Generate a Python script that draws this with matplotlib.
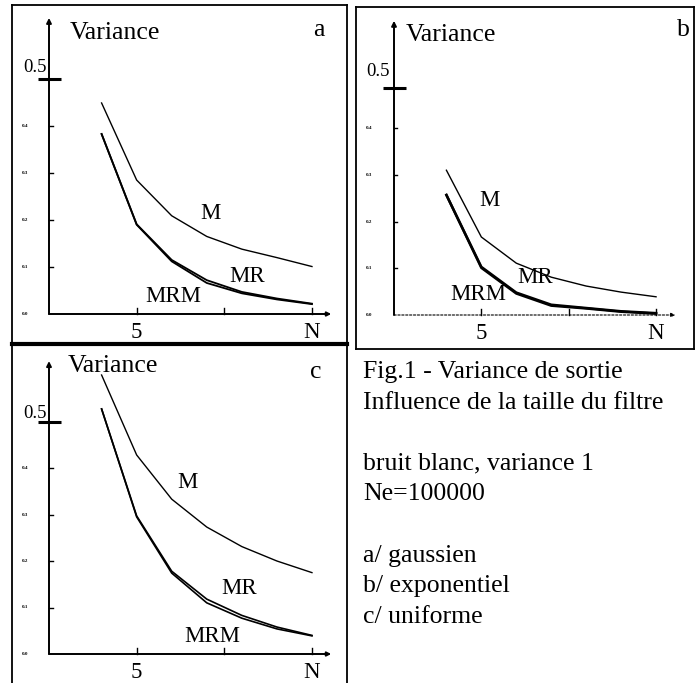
import matplotlib
matplotlib.use("Agg")
import matplotlib.pyplot as plt
from matplotlib.lines import Line2D

plt.rcParams['font.family'] = ['Liberation Serif', 'DejaVu Serif']

# ---- data -------------------------------------------------------------
N = [3, 5, 7, 9, 11, 13, 15]
y_ticks = [0.0, 0.1, 0.2, 0.3, 0.4]
y_tick_labels = ['0.0', '0.1', '0.2', '0.3', '0.4']
x_ticks = [5, 10, 15]
x_tick_labels = ['5', '', 'N']
panel_names = ['a', 'b', 'c']
series_names = ['M', 'MR', 'MRM']

# a / gaussien
M_a = [0.449, 0.285, 0.209, 0.165, 0.138, 0.120, 0.101]
MR_a = [0.383, 0.191, 0.115, 0.072, 0.047, 0.033, 0.022]
MRM_a = [0.383, 0.190, 0.112, 0.066, 0.044, 0.031, 0.021]
# b / exponentiel
M_b = [0.310, 0.167, 0.111, 0.081, 0.062, 0.049, 0.039]
MR_b = [0.257, 0.103, 0.048, 0.022, 0.015, 0.008, 0.004]
MRM_b = [0.257, 0.101, 0.046, 0.020, 0.014, 0.007, 0.003]
# c / uniforme
M_c = [0.600, 0.428, 0.333, 0.273, 0.231, 0.200, 0.175]
MR_c = [0.527, 0.297, 0.178, 0.118, 0.083, 0.058, 0.040]
MRM_c = [0.527, 0.295, 0.174, 0.110, 0.077, 0.054, 0.039]

caption = ["Fig.1 - Variance de sortie", "Influence de la taille du filtre", "",
           "bruit blanc, variance 1", "Ne=100000", "",
           "a/ gaussien", "b/ exponentiel", "c/ uniforme"]

# ---- layout (pixels) ----------------------------------------------------
W, H = 700, 683
fig = plt.figure(figsize=(W / 100, H / 100), dpi=100)


def fx(px):
    return px / W


def fy(py):
    return 1 - py / H


def T(px, py, s, **kw):
    fig.text(fx(px), fy(py), s, **kw)


panels = {
    'a': dict(frame=(12, 5, 347, 344), org=(49, 314), xs=17.53, ys=470,
              mark=0.5, data=(M_a, MR_a, MRM_a), lw_r=1.3,
              var=(70, 33), let=(319, 30), half=(47, 72), tl=25,
              lab=[(210, 214), (247, 277), (173, 296)], xdash=False),
    'b': dict(frame=(356, 7, 694, 349), org=(394, 315), xs=17.47, ys=467,
              mark=0.487, data=(M_b, MR_b, MRM_b), lw_r=1.8,
              var=(406, 35), let=(683, 30), half=(390, 76), tl=369,
              lab=[(489, 200), (535, 278), (478, 295)], xdash=True),
    'c': dict(frame=(12, 344, 347, 690), org=(49, 654), xs=17.53, ys=465,
              mark=0.5, data=(M_c, MR_c, MRM_c), lw_r=1.2,
              var=(68, 366), let=(316, 372), half=(47, 418), tl=25,
              lab=[(187, 483), (239, 588), (212, 637)], xdash=False),
}

for name in panel_names:
    p = panels[name]
    l, t, r, b = p['frame']
    ox, oy = p['org']
    xs, ys = p['xs'], p['ys']
    ax = fig.add_axes([fx(l), fy(b), (r - l) / W, (b - t) / H])
    ax.set_xlim((l - ox) / xs, (r - ox) / xs)
    ax.set_ylim((oy - b) / ys, (oy - t) / ys)
    ax.set_xticks([])
    ax.set_yticks([])
    for sp in ax.spines.values():
        sp.set_linewidth(1.3)
        sp.set_color('black')

    # axes with arrows
    ax.annotate('', xy=(0, 0.63), xytext=(0, 0),
                arrowprops=dict(arrowstyle='-|>', color='black', lw=1.4,
                                mutation_scale=7, shrinkA=0, shrinkB=0))
    ax.annotate('', xy=(16.1, 0), xytext=(0, 0),
                arrowprops=dict(arrowstyle='-|>', color='black',
                                lw=0.8 if p['xdash'] else 1.4,
                                linestyle=(0, (2, 1.5)) if p['xdash'] else '-',
                                mutation_scale=6, shrinkA=0, shrinkB=0))

    # small ticks
    for yt in y_ticks[1:]:
        ax.plot([0, 0.2], [yt, yt], color='black', lw=1.0)
    for xt in x_ticks:
        ax.plot([xt, xt], [0, 6 / ys], color='black', lw=1.0)
    # 0.5 marker
    ax.plot([-0.63, 0.68], [p['mark'], p['mark']], color='black', lw=2.2,
            solid_capstyle='butt')

    # curves
    M, MR, MRM = p['data']
    ax.plot(N, M, color='black', lw=1.0)
    ax.plot(N, MR, color='black', lw=p['lw_r'])
    ax.plot(N, MRM, color='black', lw=p['lw_r'])

    # tiny y tick labels
    for yt, lab in zip(y_ticks, y_tick_labels):
        T(p['tl'], oy - yt * ys, lab, fontsize=3.6, fontweight='bold',
          ha='center', va='center')
    # x tick labels
    for xt, lab in zip(x_ticks, x_tick_labels):
        if lab:
            T(ox + xt * xs, oy + 19, lab, fontsize=16.5, ha='center',
              va='center')

    T(p['var'][0], p['var'][1], 'Variance', fontsize=18.5, ha='left',
      va='center')
    T(p['let'][0], p['let'][1], name, fontsize=18.5, ha='center',
      va='center')
    T(p['half'][0], p['half'][1], '0.5', fontsize=13.5, ha='right',
      va='baseline')
    for (lx, ly), s in zip(p['lab'], series_names):
        T(lx, ly, s, fontsize=16.5, ha='center', va='center')

# thick separator between a and c
fig.add_artist(Line2D([fx(12), fx(347)], [fy(344), fy(344)], color='black',
                      lw=3))

# caption
y0 = 372
for i, line in enumerate(caption):
    if line:
        T(363, y0 + i * 30.6, line, fontsize=18.5, ha='left', va='center')

fig.savefig('out.png', dpi=100, facecolor='white')
